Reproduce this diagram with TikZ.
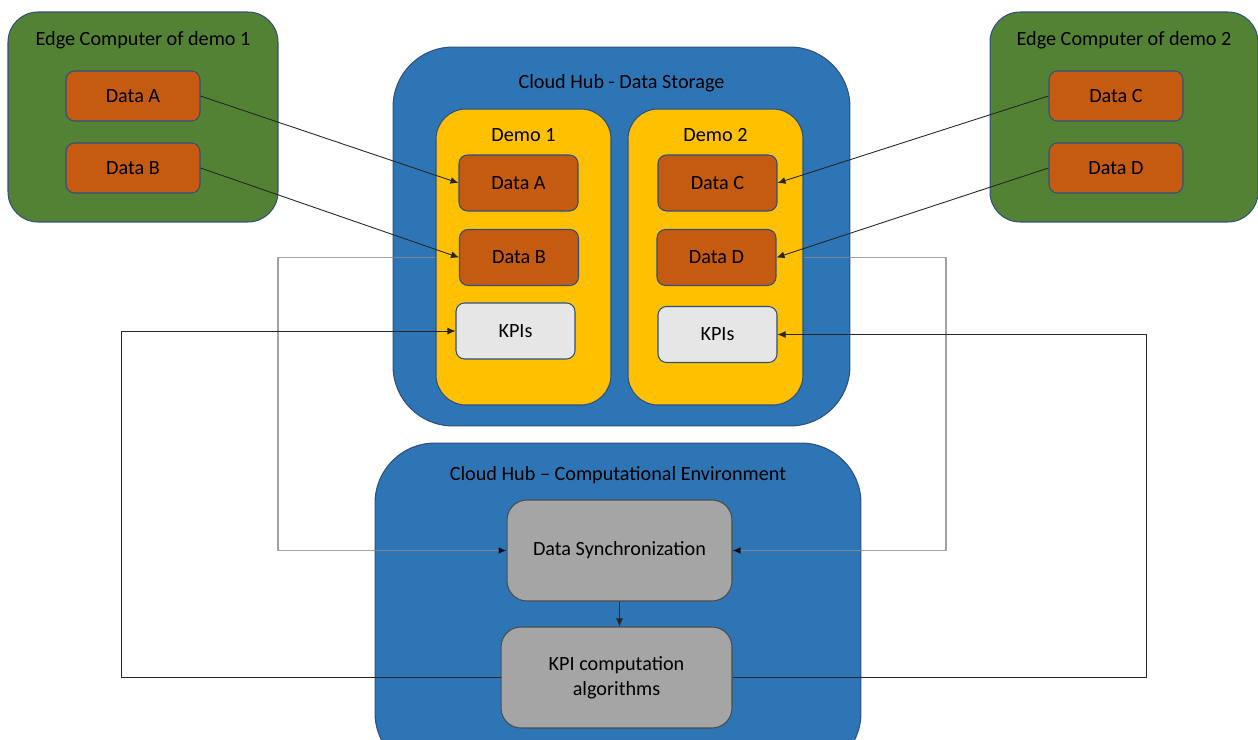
\documentclass[tikz,border=0pt]{standalone}
\usepackage{fontspec}
\setmainfont{Carlito}
\usepackage{tikz}
\usetikzlibrary{arrows.meta,calc}
\definecolor{edgegreen}{HTML}{548235}
\definecolor{dataorange}{HTML}{C55A11}
\definecolor{hubblue}{HTML}{2E75B6}
\definecolor{demoyellow}{HTML}{FFC000}
\definecolor{kpigray}{HTML}{E7E6E6}
\definecolor{algogray}{HTML}{A5A5A5}
\definecolor{rimblue}{HTML}{2F4F7F}
\tikzset{
	box/.style={draw=rimblue, line width=0.6pt, inner sep=0pt},
	edgebox/.style={box, fill=edgegreen, rounded corners=0.6cm},
	hubbox/.style={box, fill=hubblue, rounded corners=1.2cm},
	demobox/.style={box, fill=demoyellow, rounded corners=0.6cm},
	databox/.style={box, fill=dataorange, rounded corners=0.17cm, minimum width=2.38cm, minimum height=1.12cm},
	kpibox/.style={box, fill=kpigray, rounded corners=0.17cm, minimum width=2.38cm, minimum height=1.12cm},
	algobox/.style={box, draw=black!70, fill=algogray, rounded corners=0.4cm, align=center},
	title/.style={inner sep=0pt},
	link/.style={black!85, line width=0.5pt, -{Latex[length=1.6mm,width=1.4mm]}},
	bus/.style={black!45, line width=0.8pt, opacity=0.8, -{Latex[length=1.6mm,width=1.4mm,color=black]}}
}
\begin{document}
\begin{tikzpicture}[x=0.02cm, y=-0.02cm, font=\fontsize{11.5}{14}\selectfont]
		%%%%% START %%%%%
		\useasboundingbox (0, 0) rectangle (1258, 740);
		\clip (0, 0) rectangle (1258, 740);
		
		% edge computers
		\node[edgebox, minimum width=5.4cm, minimum height=4.2cm] (edge1) at (143, 117) {};
		\node[title] at (143, 40) {Edge Computer of demo 1};
		\node[databox, minimum width=2.68cm, minimum height=1cm] (eA) at (133, 96) {Data A};
		\node[databox, minimum width=2.68cm, minimum height=1cm] (eB) at (133, 168) {Data B};
		
		\node[edgebox, minimum width=5.36cm, minimum height=4.2cm] (edge2) at (1124, 117) {};
		\node[title] at (1124, 40) {Edge Computer of demo 2};
		\node[databox, minimum width=2.68cm, minimum height=1cm] (eC) at (1116, 96) {Data C};
		\node[databox, minimum width=2.68cm, minimum height=1cm] (eD) at (1116, 168) {Data D};
		
		% cloud hub - storage
		\node[hubbox, minimum width=9.14cm, minimum height=7.58cm] (store) at (621.5, 236.5) {};
		\node[title] at (621.5, 83) {Cloud Hub - Data Storage};
		
		\node[demobox, minimum width=3.5cm, minimum height=5.92cm] (demo1) at (523.5, 257) {};
		\node[title] at (523.5, 135) {Demo 1};
		\node[databox] (dA) at (518.5, 183) {Data A};
		\node[databox] (dB) at (519, 257.5) {Data B};
		\node[kpibox] (kpi1) at (515.5, 331) {KPIs};
		
		\node[demobox, minimum width=3.5cm, minimum height=5.92cm] (demo2) at (715.5, 257) {};
		\node[title] at (715.5, 135) {Demo 2};
		\node[databox] (dC) at (717.5, 183) {Data C};
		\node[databox] (dD) at (716.5, 257.5) {Data D};
		\node[kpibox] (kpi2) at (717.5, 334.5) {KPIs};
		
		% cloud hub - computation
		\node[hubbox, minimum width=9.72cm, minimum height=6.6cm] (comp) at (618, 608) {};
		\node[title] at (618, 475) {Cloud Hub -- Computational Environment};
		\node[algobox, minimum width=4.5cm, minimum height=2.02cm] (sync) at (619.5, 550.5) {Data Synchronization};
		\node[algobox, minimum width=4.62cm, minimum height=2.02cm] (algo) at (616.5, 677.5) {KPI computation\\algorithms};
		
		\coordinate (lbus) at (278, 0);
		\coordinate (rbus) at (946, 0);
		\coordinate (lkpi) at (121, 0);
		\coordinate (rkpi) at (1146, 0);
		
		% connectors
		\draw[link] (eA.east) -- (dA.west);
		\draw[link] (eB.east) -- (dB.west);
		\draw[link] (eC.west) -- (dC.east);
		\draw[link] (eD.west) -- (dD.east);
		
		\draw[bus] (dB.west -| demo1.west) -- (dB.west -| lbus) |- (sync.west);
		\draw[bus] (dD.east -| demo2.east) -- (dD.east -| rbus) |- (sync.east);
		
		\draw[link] (algo.west) -- (algo.west -| lkpi) |- (kpi1.west);
		\draw[link] (algo.east) -- (algo.east -| rkpi) |- (kpi2.east);
		\draw[link] (sync.south) -- (sync.south |- algo.north);
		%%%%% END %%%%%
	\end{tikzpicture}
\end{document}
